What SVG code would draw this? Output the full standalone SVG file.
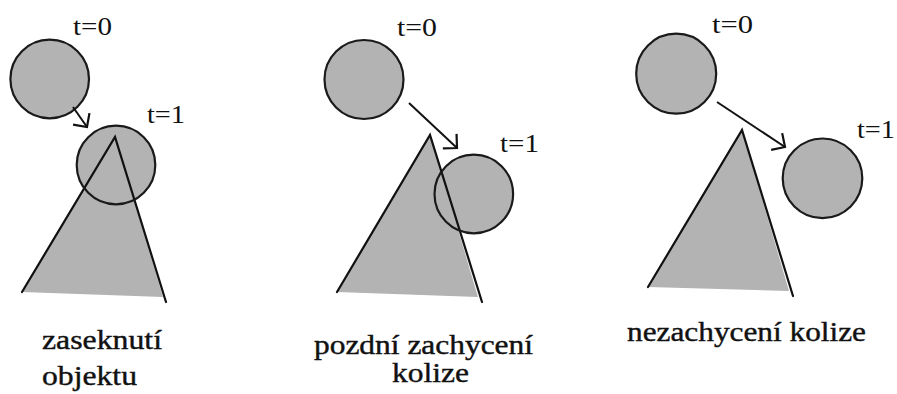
<svg xmlns="http://www.w3.org/2000/svg" width="897" height="394" viewBox="0 0 897 394">
<defs>
<style>
.fill{fill:#b3b3b3;stroke:none}
.ball{fill:#b3b3b3;stroke:#1a1a1a;stroke-width:2.2}
.ballo{fill:none;stroke:#1a1a1a;stroke-width:2.2}
.edge{fill:none;stroke:#111;stroke-width:2.2;stroke-linecap:round}
.arrow{fill:none;stroke:#111;stroke-width:2;marker-end:url(#head)}
.t{font-family:Liberation Serif, DejaVu Serif, serif;font-size:25px;fill:#111}
.cap{font-family:Liberation Serif, DejaVu Serif, serif;font-size:27px;fill:#111;stroke:#111;stroke-width:0.4}
</style>
<marker id="head" viewBox="-12 -12 14 24" refX="0" refY="0" markerWidth="14" markerHeight="24" markerUnits="userSpaceOnUse" orient="auto">
<path d="M-10,-10 L0,0 L-10,10" fill="none" stroke="#111" stroke-width="2.2" stroke-linejoin="miter"/>
</marker>
</defs>
<rect width="897" height="394" fill="#fff"/>

<!-- Panel 1 -->
<g id="p1-triangle">
<polygon class="fill" points="115,137 163,297 22,292"/>
</g>
<g id="p1-ball0">
<circle class="ball" cx="49.7" cy="79" r="39.3"/>
<text class="t" x="73" y="35" textLength="39" lengthAdjust="spacingAndGlyphs">t=0</text>
</g>
<g id="p1-ball1">
<circle class="fill" cx="116" cy="165" r="39.3"/>
<polyline class="edge" points="22,292 115,137 166,302"/>
<circle class="ballo" cx="116" cy="165" r="39.3"/>
<text class="t" x="147" y="123" textLength="38" lengthAdjust="spacingAndGlyphs">t=1</text>
</g>
<g id="p1-caption">
<text class="cap" x="42" y="349" textLength="120" lengthAdjust="spacingAndGlyphs">zaseknutí</text>
<text class="cap" x="42" y="385" textLength="95" lengthAdjust="spacingAndGlyphs">objektu</text>
</g>

<!-- Panel 2 -->
<g id="p2-triangle">
<polygon class="fill" points="430,135 478,297 337,292"/>
</g>
<g id="p2-ball0">
<circle class="ball" cx="364" cy="79.5" r="39.5"/>
<text class="t" x="397" y="36" textLength="40" lengthAdjust="spacingAndGlyphs">t=0</text>
</g>
<g id="p2-ball1">
<circle class="fill" cx="473.8" cy="194" r="39.3"/>
<polyline class="edge" points="337,292 430,135 482,302"/>
<circle class="ballo" cx="473.8" cy="194" r="39.3"/>
<text class="t" x="500" y="152" textLength="39" lengthAdjust="spacingAndGlyphs">t=1</text>
</g>
<g id="p2-caption">
<text class="cap" x="314" y="354" textLength="219" lengthAdjust="spacingAndGlyphs">pozdní zachycení</text>
<text class="cap" x="392" y="382" textLength="77" lengthAdjust="spacingAndGlyphs">kolize</text>
</g>

<!-- Panel 3 -->
<g id="p3-triangle">
<polygon class="fill" points="742,130 789,291 648,287"/>
<polyline class="edge" points="648,287 742,130 793,296"/>
</g>
<g id="p3-ball0">
<circle class="ball" cx="676.2" cy="73.7" r="40"/>
<text class="t" x="712" y="33" textLength="41" lengthAdjust="spacingAndGlyphs">t=0</text>
</g>
<g id="p3-ball1">
<circle class="ball" cx="822.5" cy="178.3" r="39.8"/>
<text class="t" x="857" y="138" textLength="38" lengthAdjust="spacingAndGlyphs">t=1</text>
</g>
<g id="p3-caption">
<text class="cap" x="627" y="341" textLength="239" lengthAdjust="spacingAndGlyphs">nezachycení kolize</text>
</g>

<!-- Connectors -->
<g id="connectors">
<line class="arrow" x1="73" y1="107" x2="87" y2="127"/>
<line class="arrow" x1="409" y1="103" x2="457" y2="148"/>
<line class="arrow" x1="717" y1="102" x2="785" y2="147"/>
</g>
</svg>
